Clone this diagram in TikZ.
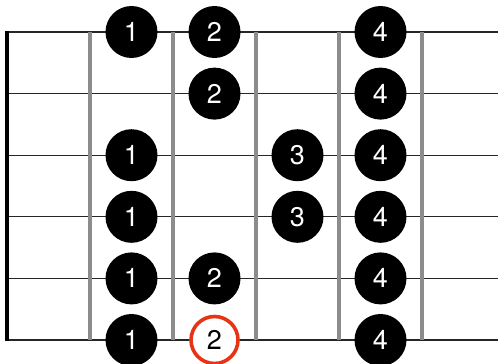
\documentclass[tikz,border=0pt]{standalone}
\usepackage{fontspec}
\setmainfont{TeX Gyre Heros}
\usetikzlibrary{positioning}

\definecolor{rootred}{RGB}{232,52,22}
\definecolor{fretgray}{RGB}{140,140,140}

\begin{document}
\begin{tikzpicture}[x=1pt,y=-1pt,
  stringline/.style={draw=black!85,line width=1.3pt},
  fretline/.style={draw=fretgray,line width=3.2pt},
  nutline/.style={draw=black,line width=3.4pt},
  finger/.style={circle,fill=black,text=white,minimum size=52pt,inner sep=0pt,font=\fontsize{27}{27}\selectfont},
  rootnote/.style={circle,draw=rootred,line width=3.6pt,fill=white,text=black,minimum size=47pt,inner sep=0pt,font=\fontsize{27}{27}\selectfont}
]
\useasboundingbox (0,0) rectangle (498,364);
% strings
\foreach \y in {32,93.6,155.2,216.8,278.4,340}
  \draw[stringline] (7,\y) -- (498,\y);
% frets
\foreach \x in {90,173,256,339,422}
  \draw[fretline] (\x,32) -- (\x,340);
\draw[nutline] (7,31) -- (7,341);
% first string
\node[finger] (s1f1) at (131.5,32) {1};
\node[finger] (s1f2) at (214.5,32) {2};
\node[finger] (s1f4) at (380.5,32) {4};
% second string
\node[finger] (s2f2) at (214.5,93.6) {2};
\node[finger] (s2f4) at (380.5,93.6) {4};
% third string
\node[finger] (s3f1) at (131.5,155.2) {1};
\node[finger] (s3f3) at (297.5,155.2) {3};
\node[finger] (s3f4) at (380.5,155.2) {4};
% fourth string
\node[finger] (s4f1) at (131.5,216.8) {1};
\node[finger] (s4f3) at (297.5,216.8) {3};
\node[finger] (s4f4) at (380.5,216.8) {4};
% fifth string
\node[finger] (s5f1) at (131.5,278.4) {1};
\node[finger] (s5f2) at (214.5,278.4) {2};
\node[finger] (s5f4) at (380.5,278.4) {4};
% sixth string, root
\node[finger] (s6f1) at (131.5,340) {1};
\node[rootnote] (s6f2) at (214.5,340) {2};
\node[finger] (s6f4) at (380.5,340) {4};
\end{tikzpicture}
\end{document}
